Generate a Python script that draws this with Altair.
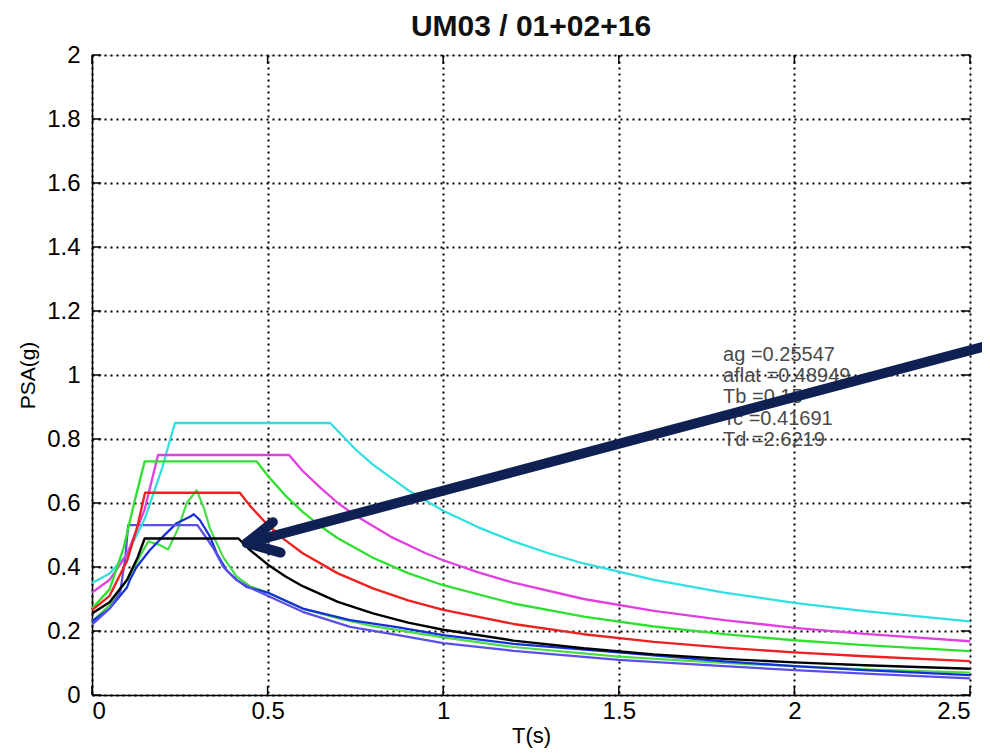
import altair as alt
import pandas as pd

# ---------------- data ----------------
x_ticks = [0, 0.5, 1, 1.5, 2, 2.5]
y_ticks = [0, 0.2, 0.4, 0.6, 0.8, 1, 1.2, 1.4, 1.6, 1.8, 2]

# response spectra
green_resp_T = [0, 0.05, 0.1, 0.13, 0.16, 0.19, 0.217, 0.245, 0.27, 0.298, 0.32, 0.336, 0.374, 0.412,
                0.45, 0.5, 0.6, 0.7, 0.8, 1.0, 1.2, 1.5, 1.8, 2.0, 2.2, 2.5]
green_resp_P = [0.23, 0.28, 0.36, 0.42, 0.48, 0.47, 0.455, 0.52, 0.60, 0.64, 0.58, 0.52, 0.43, 0.37,
                0.34, 0.32, 0.27, 0.24, 0.215, 0.18, 0.15, 0.12, 0.10, 0.09, 0.08, 0.07]

blue_resp_T = [0, 0.05, 0.08, 0.099, 0.108, 0.127, 0.165, 0.202, 0.241, 0.279, 0.29, 0.307, 0.336,
               0.355, 0.383, 0.412, 0.44, 0.5, 0.6, 0.735, 0.868, 1.0, 1.2, 1.5, 1.8, 2.0, 2.2, 2.5]
blue_resp_P = [0.23, 0.27, 0.31, 0.335, 0.36, 0.40, 0.453, 0.495, 0.537, 0.557, 0.565, 0.547, 0.495,
               0.443, 0.39, 0.36, 0.338, 0.32, 0.27, 0.234, 0.212, 0.187, 0.16, 0.133, 0.105, 0.09, 0.078, 0.062]

violet_T = [0, 0.05, 0.08, 0.095, 0.103, 0.30, 0.32, 0.345, 0.374, 0.41, 0.45, 0.5, 0.6, 0.735, 0.868,
            1.0, 1.2, 1.5, 1.8, 2.0, 2.2, 2.5]
violet_P = [0.22, 0.27, 0.32, 0.43, 0.531, 0.531, 0.50, 0.46, 0.40, 0.36, 0.335, 0.31, 0.26, 0.213, 0.188,
            0.162, 0.138, 0.11, 0.09, 0.078, 0.067, 0.052]

# design spectra
cyan_T = [0, 0.05, 0.1, 0.15, 0.2, 0.236, 0.678, 0.75, 0.8, 0.9, 1.0, 1.1, 1.2, 1.3, 1.4, 1.6, 1.8, 2.0, 2.2, 2.5]
cyan_P = [0.35, 0.38, 0.44, 0.55, 0.71, 0.85, 0.85, 0.768, 0.72, 0.64, 0.576, 0.524, 0.48, 0.443, 0.411,
          0.36, 0.32, 0.288, 0.262, 0.23]

magenta_T = [0, 0.05, 0.1, 0.15, 0.188, 0.561, 0.6, 0.65, 0.7, 0.75, 0.85, 0.95, 1.0, 1.1, 1.2, 1.4, 1.6, 1.8, 2.0, 2.2, 2.5]
magenta_P = [0.32, 0.36, 0.44, 0.58, 0.75, 0.75, 0.70, 0.648, 0.60, 0.561, 0.495, 0.443, 0.421, 0.383, 0.351,
             0.30, 0.263, 0.234, 0.21, 0.191, 0.168]

green_T = [0, 0.05, 0.09, 0.12, 0.15, 0.469, 0.5, 0.55, 0.6, 0.65, 0.7, 0.8, 0.9, 1.0, 1.2, 1.4, 1.6, 1.8, 2.0, 2.2, 2.5]
green_P = [0.27, 0.33, 0.46, 0.60, 0.73, 0.73, 0.686, 0.624, 0.572, 0.528, 0.49, 0.429, 0.381, 0.343, 0.286,
           0.245, 0.214, 0.19, 0.171, 0.156, 0.137]

red_T = [0, 0.05, 0.1, 0.13, 0.151, 0.421, 0.45, 0.5, 0.55, 0.6, 0.7, 0.8, 0.9, 1.0, 1.2, 1.4, 1.6, 1.8, 2.0, 2.2, 2.5]
red_P = [0.265, 0.31, 0.42, 0.53, 0.632, 0.632, 0.591, 0.532, 0.484, 0.443, 0.38, 0.333, 0.296, 0.266, 0.222,
         0.19, 0.166, 0.148, 0.133, 0.121, 0.106]

black_T = [0, 0.05, 0.1, 0.13, 0.15, 0.417, 0.45, 0.5, 0.55, 0.6, 0.7, 0.8, 0.9, 1.0, 1.2, 1.4, 1.6, 1.8, 2.0, 2.2, 2.5]
black_P = [0.255, 0.29, 0.36, 0.43, 0.489, 0.489, 0.453, 0.408, 0.371, 0.34, 0.291, 0.255, 0.226, 0.204, 0.17,
           0.146, 0.127, 0.113, 0.102, 0.093, 0.082]

series_names = ["green_resp", "blue_resp", "violet", "cyan", "magenta", "green", "red", "black"]
series_colors = ["#45de45", "#1530d8", "#5a4fe6", "#30e0e0", "#e040e0", "#30e030", "#ee2020", "#000000"]
series_widths = [2.2, 2.4, 2.4, 2.5, 2.5, 2.5, 2.5, 3.5]
series_data = [(green_resp_T, green_resp_P), (blue_resp_T, blue_resp_P), (violet_T, violet_P),
               (cyan_T, cyan_P), (magenta_T, magenta_P), (green_T, green_P), (red_T, red_P),
               (black_T, black_P)]

# annotation text
note_lines = ["ag =0.25547", "aflat =0.48949", "Tb =0.15", "Tc =0.41691", "Td =2.6219"]
note_T = [1.797, 1.797, 1.797, 1.797, 1.797]
note_P = [1.063, 0.996, 0.930, 0.863, 0.797]

# arrow (shaft and two barbs), in data units
arrow_seg = ["shaft", "shaft", "barb1", "barb1", "barb2", "barb2"]
arrow_T = [2.557, 0.441, 0.441, 0.515, 0.441, 0.537]
arrow_P = [1.094, 0.475, 0.475, 0.540, 0.475, 0.445]

# ---------------- build tables ----------------
rows = []
for k, (name, (ts, ps)) in enumerate(zip(series_names, series_data)):
    for t, p in zip(ts, ps):
        rows.append({"series": name, "k": k, "T": t, "PSA": p})
df = pd.DataFrame(rows)

df_note = pd.DataFrame({"txt": note_lines, "T": note_T, "PSA": note_P})
df_arrow = pd.DataFrame({"seg": arrow_seg, "T": arrow_T, "PSA": arrow_P})

tick_len_x = 0.026
tick_len_y = 0.028
df_yt = pd.DataFrame({"v": y_ticks})
df_xt = pd.DataFrame({"v": x_ticks})

xs = alt.Scale(domain=[0, 2.5], nice=False, zero=False)
ys = alt.Scale(domain=[0, 2], nice=False, zero=False)

x_axis = alt.Axis(values=x_ticks, format="~g", grid=True, ticks=False, labelPadding=4,
                  labelFontSize=24, labelFont="Liberation Sans", labelColor="black",
                  title="T(s)", titleFontSize=22, titleFont="Liberation Sans", titleFontWeight="normal",
                  titleColor="black", titleY=47, titleBaseline="alphabetic",
                  domainColor="black", domainWidth=1.5,
                  gridColor="black", gridDash=[2, 4], gridWidth=2, gridOpacity=1)
y_axis = alt.Axis(values=y_ticks, format="~g", grid=True, ticks=False, labelPadding=12,
                  labelFontSize=24, labelFont="Liberation Sans", labelColor="black",
                  title="PSA(g)", titleFontSize=21, titleFont="Liberation Sans", titleFontWeight="normal",
                  titleColor="black", titleX=-64, titleY=320, titleAngle=270, titleAlign="center",
                  titleBaseline="middle",
                  domainColor="black", domainWidth=1.5,
                  gridColor="black", gridDash=[2, 4], gridWidth=2, gridOpacity=1)

lines = alt.Chart(df).mark_line(clip=True, strokeJoin="round").encode(
    x=alt.X("T:Q", scale=xs, axis=x_axis),
    y=alt.Y("PSA:Q", scale=ys, axis=y_axis),
    color=alt.Color("series:N", scale=alt.Scale(domain=series_names, range=series_colors), legend=None),
    strokeWidth=alt.StrokeWidth("series:N", scale=alt.Scale(domain=series_names, range=series_widths), legend=None),
    order=alt.Order("T:Q"),
)

# inward ticks (left, right, bottom, top)
tick_style = dict(color="black", strokeWidth=1.5)
yt_left = alt.Chart(df_yt).mark_rule(**tick_style).encode(
    y=alt.Y("v:Q", scale=ys), x=alt.datum(0, scale=xs), x2=alt.datum(tick_len_x))
yt_right = alt.Chart(df_yt).mark_rule(**tick_style).encode(
    y=alt.Y("v:Q", scale=ys), x=alt.datum(2.5 - tick_len_x, scale=xs), x2=alt.datum(2.5))
xt_bottom = alt.Chart(df_xt).mark_rule(**tick_style).encode(
    x=alt.X("v:Q", scale=xs), y=alt.datum(0, scale=ys), y2=alt.datum(tick_len_y))
xt_top = alt.Chart(df_xt).mark_rule(**tick_style).encode(
    x=alt.X("v:Q", scale=xs), y=alt.datum(2 - tick_len_y, scale=ys), y2=alt.datum(2))

notes = alt.Chart(df_note).mark_text(align="left", baseline="middle", fontSize=20,
                                     font="Liberation Sans", color="#4a4a4a").encode(
    x=alt.X("T:Q", scale=xs), y=alt.Y("PSA:Q", scale=ys), text="txt:N")

arrow = alt.Chart(df_arrow).mark_line(strokeWidth=10, strokeCap="round", strokeJoin="round",
                                      color="#0e2152", clip=False).encode(
    x=alt.X("T:Q", scale=xs), y=alt.Y("PSA:Q", scale=ys), detail="seg:N")

chart = alt.layer(lines, yt_left, yt_right, xt_bottom, xt_top, notes, arrow).properties(
    width=878, height=640,
    title=alt.Title("UM03 / 01+02+16", fontSize=30, font="Liberation Sans", fontWeight="bold",
                    anchor="middle", color="#111111", offset=1),
    autosize=alt.AutoSizeParams(type="none"),
    padding={"left": 84, "top": 47, "right": 12, "bottom": 53},
).configure_view(strokeWidth=0).configure(background="white")

chart.save("out.html", embed_options={"renderer": "svg", "actions": False})
